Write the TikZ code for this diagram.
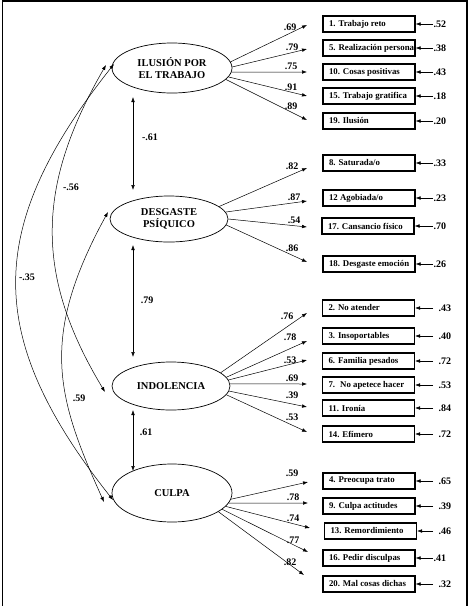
\documentclass[tikz,border=0pt]{standalone}
\usepackage{fontspec}
\setmainfont{Liberation Serif}
\usetikzlibrary{arrows.meta,shapes.geometric}
\newcommand\obstext[1]{\makebox[80pt][l]{#1}}
\begin{document}
\begin{tikzpicture}[x=1pt,y=-1pt,
  lat/.style={ellipse, draw, line width=0.7pt, inner sep=0pt, align=center,
    font=\fontsize{10.5}{11.5}\selectfont\bfseries},
  obs/.style={draw, line width=1.1pt, minimum height=16pt, inner xsep=6pt, inner ysep=0pt,
    font=\fontsize{8.8}{9}\selectfont\bfseries},
  coef/.style={font=\fontsize{10}{10}\selectfont\bfseries, inner sep=0.5pt},
  tipx/.tip={Latex[length=5pt,width=3.6pt]},
  load/.style={-tipx, line width=0.5pt},
  corr/.style={tipx-tipx, line width=0.5pt},
]
\useasboundingbox (0,0) rectangle (470,606);
\fill[white] (0,0) rectangle (470,606);
\draw[line width=1.3pt] (2.5,612) -- (2.5,1) -- (467,1) -- (467,612);

% latent factors
\node[lat, minimum width=120pt, minimum height=50pt] (e1) at (172,68) {ILUSIÓN POR\\EL TRABAJO};
\node[lat, minimum width=118pt, minimum height=46pt] (e2) at (169,219) {DESGASTE\\PSÍQUICO};
\node[lat, minimum width=118pt, minimum height=48pt] (e3) at (171,386) {INDOLENCIA};
\node[lat, minimum width=120pt, minimum height=58pt] (e4) at (172,493) {CULPA};

% observed items, group 1
\node[obs] (o1) at (369,24) {\obstext{1. Trabajo reto}};
\node[obs] (o5) at (369,48) {\obstext{5. Realización personal}};
\node[obs] (o10) at (369,72) {\obstext{10. Cosas positivas}};
\node[obs] (o15) at (369,96) {\obstext{15. Trabajo gratifica}};
\node[obs] (o19) at (369,121) {\obstext{19. Ilusión}};
% group 2
\node[obs] (o8) at (369,163) {\obstext{8. Saturada/o}};
\node[obs] (o12) at (369,198) {\obstext{12 Agobiada/o}};
\node[obs] (o17) at (368,226) {\obstext{17. Cansancio físico}};
\node[obs] (o18) at (369,264) {\obstext{18. Desgaste emoción}};
% group 3
\node[obs] (o2) at (368.5,308) {\obstext{2. No atender}};
\node[obs] (o3) at (368.5,336) {\obstext{3. Insoportables}};
\node[obs] (o6) at (368.5,361) {\obstext{6. Familia pesados}};
\node[obs] (o7) at (368.5,385) {\obstext{7.~ No apetece hacer}};
\node[obs] (o11) at (368.5,408) {\obstext{11. Ironía}};
\node[obs] (o14) at (368.5,434) {\obstext{14. Efímero}};
% group 4
\node[obs] (o4) at (369,481) {\obstext{4. Preocupa trato}};
\node[obs] (o9) at (369,506) {\obstext{9. Culpa actitudes}};
\node[obs] (o13) at (370.5,531) {\obstext{13. Remordimiento}};
\node[obs] (o16) at (369,558) {\obstext{16. Pedir disculpas}};
\node[obs] (o20) at (369,584) {\obstext{20. Mal cosas dichas}};

% residuals
\foreach \o/\v in {o1/.52,o5/.38,o10/.43,o15/.18,o19/.20,o8/.33,o12/.23,o17/.70,o18/.26}{
  \node[coef, anchor=west] (r\o) at (433,0 |- \o) {\v};
  \draw[load] (r\o.west) -- (\o.east);
}
\foreach \o/\v in {o2/.43,o3/.40,o6/.72,o7/.53,o11/.84,o14/.72,o4/.65,o9/.39,o13/.46,o20/.32}{
  \node[coef, anchor=west] (r\o) at (438,0 |- \o) {\v};
  \draw[load] ([xshift=-5pt]r\o.west) -- (\o.east);
}
\node[coef, anchor=west] (ro16) at (433,0 |- o16) {.41};
\draw[load] (ro16.west) -- (o16.east);

% loading arrow tips
\coordinate (t1) at (307,25);  \coordinate (t5) at (307,49);  \coordinate (t10) at (307,72);
\coordinate (t15) at (307,96); \coordinate (t19) at (307,120);
\coordinate (t8) at (307,168); \coordinate (t12) at (307,201); \coordinate (t17) at (307,227);
\coordinate (t18) at (307,262);
\coordinate (t2) at (307,313); \coordinate (t3) at (307,341); \coordinate (t6) at (307,360);
\coordinate (t7) at (307,384); \coordinate (t11) at (307,407); \coordinate (t14) at (307,432);
\coordinate (t4) at (308,482); \coordinate (t9) at (308,503); \coordinate (t13) at (310,528);
\coordinate (t16) at (308,552); \coordinate (t20) at (304,575);

\draw[load] (e1.6) -- (t1);  \draw[load] (e1.1) -- (t5);  \draw[load] (e1.-4) -- (t10);
\draw[load] (e1.-9) -- (t15); \draw[load] (e1.-12) -- (t19);
\draw[load] (e2.14) -- (t8); \draw[load] (e2.7) -- (t12); \draw[load] (e2.0) -- (t17);
\draw[load] (e2.-6) -- (t18);
\draw[load] (e3.15) -- (t2); \draw[load] (e3.9) -- (t3); \draw[load] (e3.6) -- (t6);
\draw[load] (e3.2) -- (t7); \draw[load] (e3.-5) -- (t11); \draw[load] (e3.-9) -- (t14);
\draw[load] (e4.-6) -- (t4); \draw[load] (e4.-10) -- (t9); \draw[load] (e4.-14) -- (t13);
\draw[load] (e4.-18) -- (t16); \draw[load] (e4.-22) -- (t20);

% loading labels
\node[coef] (l1) at (290,27) {.69};
\node[coef] (l5) at (292,47) {.79};
\node[coef] (l10) at (291,66) {.75};
\node[coef] (l15) at (291,87) {.91};
\node[coef] (l19) at (291,106) {.89};
\node[coef] (l8) at (292,166) {.82};
\node[coef] (l12) at (294,197) {.87};
\node[coef] (l17) at (294,220) {.54};
\node[coef] (l18) at (292,248) {.86};
\node[coef] (l2) at (287,316) {.76};
\node[coef] (l3) at (290,337) {.78};
\node[coef] (l6) at (290,360) {.53};
\node[coef] (l7) at (292,378) {.69};
\node[coef] (l11) at (292,395) {.39};
\node[coef] (l14) at (292,417) {.53};
\node[coef] (l4) at (292,473) {.59};
\node[coef] (l9) at (293,497) {.78};
\node[coef] (l13) at (293,518) {.74};
\node[coef] (l16) at (293,540) {.77};
\node[coef] (l20) at (290,562) {.82};

% correlations between adjacent factors
\coordinate (v1a) at (133,97);  \coordinate (v1b) at (133,190);
\coordinate (v2a) at (133,245); \coordinate (v2b) at (133,357);
\coordinate (v3a) at (133,410); \coordinate (v3b) at (133,471);
\draw[corr] (v1a) -- (v1b);
\draw[corr] (v2a) -- (v2b);
\draw[corr] (v3a) -- (v3b);
\node[coef] (k12) at (150,137) {-.61};
\node[coef] (k23) at (147,300) {.79};
\node[coef] (k34) at (146,432) {.61};

% curved correlations
\coordinate (ca1) at (114,64);  \coordinate (ca2) at (113,500);
\coordinate (cb1) at (106,65);  \coordinate (cb2) at (105,392);
\coordinate (cc1) at (108,212); \coordinate (cc2) at (104,502);
\draw[corr] (ca1) .. controls (-16,228) and (-16,337) .. (ca2);
\draw[corr] (cb1) .. controls (35.5,187) and (35,276) .. (cb2);
\draw[corr] (cc1) .. controls (39,338) and (56.5,397) .. (cc2);
\node[coef] (k14) at (27,277) {-.35};
\node[coef] (k13) at (71,187) {-.56};
\node[coef] (k24) at (79,398) {.59};
\end{tikzpicture}
\end{document}
